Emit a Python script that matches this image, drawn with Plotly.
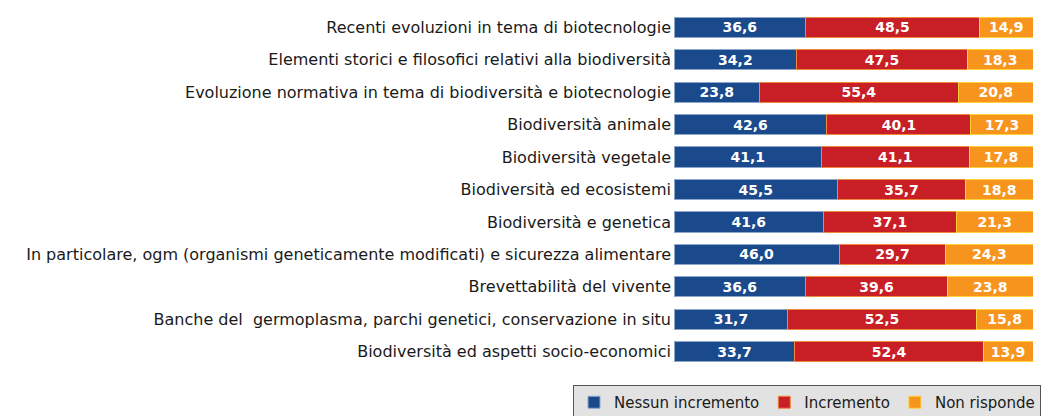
import plotly.graph_objects as go

categories = [
    "Recenti evoluzioni in tema di biotecnologie",
    "Elementi storici e filosofici relativi alla biodiversità",
    "Evoluzione normativa in tema di biodiversità e biotecnologie",
    "Biodiversità animale",
    "Biodiversità vegetale",
    "Biodiversità ed ecosistemi",
    "Biodiversità e genetica",
    "In particolare, ogm (organismi geneticamente modificati) e sicurezza alimentare",
    "Brevettabilità del vivente",
    "Banche del  germoplasma, parchi genetici, conservazione in situ",
    "Biodiversità ed aspetti socio-economici",
]
nessun = [36.6, 34.2, 23.8, 42.6, 41.1, 45.5, 41.6, 46.0, 36.6, 31.7, 33.7]
incremento = [48.5, 47.5, 55.4, 40.1, 41.1, 35.7, 37.1, 29.7, 39.6, 52.5, 52.4]
non_risponde = [14.9, 18.3, 20.8, 17.3, 17.8, 18.8, 21.3, 24.3, 23.8, 15.8, 13.9]

series = [
    ("Nessun incremento", nessun, "#1b4a8c", "#8fa6cc"),
    ("Incremento", incremento, "#c81e26", "#f08a3a"),
    ("Non risponde", non_risponde, "#f7941d", "#ffd23a"),
]

def fmt(v):
    return f"{v:.1f}".replace(".", ",")

FONT = "DejaVu Sans"

fig = go.Figure()
for name, vals, color, line in series:
    fig.add_trace(go.Bar(
        y=categories, x=vals, name=name, orientation="h",
        marker=dict(color=color, line=dict(color=line, width=1)),
        text=[fmt(v) for v in vals], textposition="inside",
        insidetextanchor="middle", constraintext="none",
        textfont=dict(family=FONT, size=14, color="white", weight="bold"),
        width=0.62,
        hoverinfo="skip",
    ))

fig.update_layout(
    barmode="stack",
    width=1052, height=416,
    margin=dict(l=666, r=27, t=3, b=56, autoexpand=False),
    plot_bgcolor="white", paper_bgcolor="white",
    font=dict(family=FONT, size=16, color="#1a1a1a"),
    showlegend=True,
    legend=dict(
        orientation="h",
        x=-0.2813, xanchor="left", y=-0.0476, yanchor="top",
        bgcolor="#e2e2e2", bordercolor="#555555", borderwidth=1,
        font=dict(family=FONT, size=15, color="#1a1a1a"), traceorder="normal",
        itemwidth=30,
    ),
)
fig.update_xaxes(range=[0, 100], visible=False)
fig.update_yaxes(autorange="reversed", showline=False, showgrid=False, ticks="",
                 ticklabelstandoff=2, tickfont=dict(family=FONT, size=16, color="#1a1a1a"))

fig.write_html("out.html")
